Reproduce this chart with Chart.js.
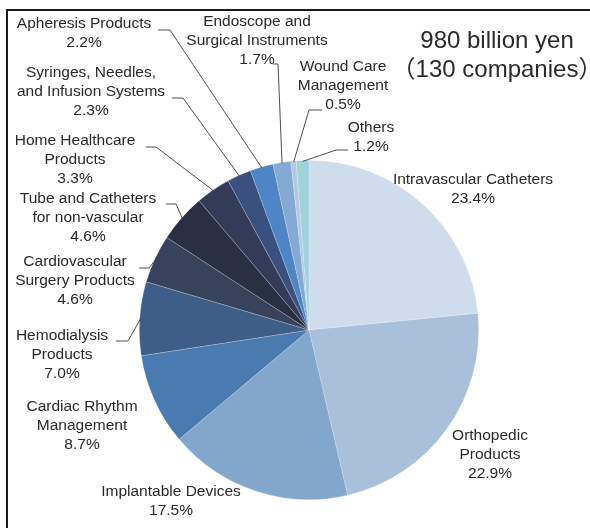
<!DOCTYPE html>
<html lang="en">
<head>
  <meta charset="UTF-8">
  <title>Medical device market share</title>
  <script src="https://cdn.jsdelivr.net/npm/chart.js"></script>
  <style>
    html, body { margin: 0; padding: 0; background: #fff; }
    #wrap { position: relative; width: 590px; height: 528px; overflow: hidden; }
    #frameTop { position: absolute; left: 6px; top: 9px; width: 584px; height: 2px; background: #1a1a1a; }
    #frameLeft { position: absolute; left: 6px; top: 9px; width: 2px; height: 519px; background: #1a1a1a; }
  </style>
</head>
<body>
<div id="wrap">
  <canvas id="pie" width="590" height="528"></canvas>
  <div id="frameTop"></div>
  <div id="frameLeft"></div>
</div>
<script>
  // data (clockwise from 12 o'clock)
  const categories = [
    ['Intravascular Catheters'],
    ['Orthopedic', 'Products'],
    ['Implantable Devices'],
    ['Cardiac Rhythm', 'Management'],
    ['Hemodialysis', 'Products'],
    ['Cardiovascular', 'Surgery Products'],
    ['Tube and Catheters', 'for non-vascular'],
    ['Home Healthcare', 'Products'],
    ['Syringes, Needles,', 'and Infusion Systems'],
    ['Apheresis Products'],
    ['Endoscope and', 'Surgical Instruments'],
    ['Wound Care', 'Management'],
    ['Others']
  ];
  const shares = [23.4, 22.9, 17.5, 8.7, 7.0, 4.6, 4.6, 3.3, 2.3, 2.2, 1.7, 0.5, 1.2];
  const sliceColors = ['#cfdcec', '#a8c0da', '#83a6cb', '#4a7bb0', '#3e5e88', '#37435c',
                       '#2a3044', '#323b57', '#3a5180', '#4e85c5', '#84a9d3', '#b4c8e5', '#a0d2dc'];
  const titleLines = ['980 billion yen', '\uff08130 companies\uff09'];

  // label layout: centre x, first line y, leader elbow points (ending at the slice edge)
  const labelLayout = [
    { x: 473, y: 180, leader: null },
    { x: 490, y: 436, leader: null },
    { x: 171, y: 492, leader: null },
    { x: 82,  y: 407, leader: null },
    { x: 62,  y: 336, leader: [[116, 341], [128, 341]] },
    { x: 75,  y: 262, leader: [[139, 268], [149, 268]] },
    { x: 88,  y: 199, leader: [[166, 204], [176, 204]] },
    { x: 75,  y: 141, leader: [[146, 147], [156, 147]] },
    { x: 91,  y: 73,  leader: [[172, 98], [183, 98]] },
    { x: 84,  y: 24,  leader: [[158, 30], [170, 30]] },
    { x: 257, y: 22,  leader: [[273, 64], [278, 64]] },
    { x: 343, y: 67,  leader: [[322, 110], [309, 110]] },
    { x: 371, y: 128, leader: [[348, 150], [336, 150]] }
  ];

  const textColor = '#2a2a2a';
  const labelFont = '15.5px "Liberation Sans", Arial, sans-serif';
  const lineH = 19;

  const labelPlugin = {
    id: 'outerLabels',
    afterDraw(chart) {
      const ctx = chart.ctx;
      const arcs = chart.getDatasetMeta(0).data;
      ctx.save();
      ctx.font = labelFont;
      ctx.fillStyle = textColor;
      ctx.textAlign = 'center';
      ctx.textBaseline = 'middle';
      arcs.forEach((arc, i) => {
        const lay = labelLayout[i];
        const lines = categories[i].concat([shares[i].toFixed(1) + '%']);
        lines.forEach((t, k) => ctx.fillText(t, lay.x, lay.y + k * lineH));
        if (lay.leader) {
          const mid = (arc.startAngle + arc.endAngle) / 2;
          const r = arc.outerRadius - 1;
          const ex = arc.x + Math.cos(mid) * r;
          const ey = arc.y + Math.sin(mid) * r;
          ctx.strokeStyle = '#3c3c3c';
          ctx.lineWidth = 0.9;
          ctx.beginPath();
          ctx.moveTo(lay.leader[0][0], lay.leader[0][1]);
          for (let k = 1; k < lay.leader.length; k++) ctx.lineTo(lay.leader[k][0], lay.leader[k][1]);
          ctx.lineTo(ex, ey);
          ctx.stroke();
        }
      });
      // title
      ctx.font = '24px "Liberation Sans", "Noto Sans CJK JP", Arial, sans-serif';
      ctx.fillText(titleLines[0], 497, 41);
      ctx.fillText(titleLines[1], 497, 70);
      ctx.restore();
    }
  };

  new Chart(document.getElementById('pie'), {
    type: 'pie',
    data: {
      labels: categories,
      datasets: [{
        data: shares,
        backgroundColor: sliceColors,
        borderColor: 'rgba(255,255,255,0.35)',
        borderWidth: 0.6
      }]
    },
    options: {
      responsive: false,
      animation: false,
      layout: { padding: { left: 139, right: 111, top: 160, bottom: 28 } },
      plugins: { legend: { display: false }, tooltip: { enabled: false } }
    },
    plugins: [labelPlugin]
  });
</script>
</body>
</html>
